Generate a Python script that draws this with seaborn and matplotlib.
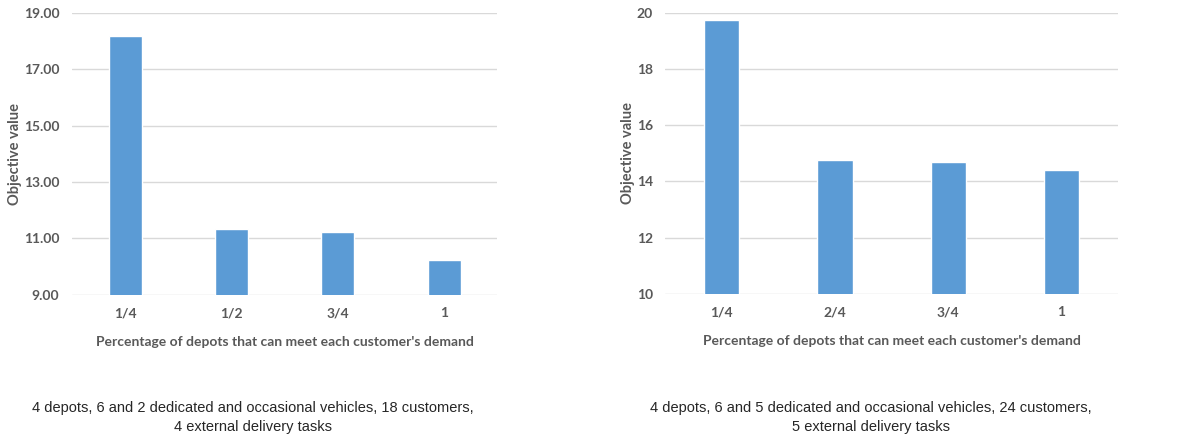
import pandas as pd
import matplotlib.pyplot as plt
import seaborn as sns

# Data
labels_a = ['1/4', '1/2', '3/4', '1']
values_a = [18.18, 11.34, 11.23, 10.24]
labels_b = ['1/4', '2/4', '3/4', '1']
values_b = [19.75, 14.77, 14.69, 14.41]

caption_a = '4 depots, 6 and 2 dedicated and occasional vehicles, 18 customers,\n4 external delivery tasks'
caption_b = '4 depots, 6 and 5 dedicated and occasional vehicles, 24 customers,\n5 external delivery tasks'

df_a = pd.DataFrame({'share': labels_a, 'obj': values_a})
df_b = pd.DataFrame({'share': labels_b, 'obj': values_b})

sns.set_style('white')
plt.rcParams['font.family'] = ['Lato', 'DejaVu Sans']

fig = plt.figure(figsize=(11.88, 4.42), dpi=100)
ax1 = fig.add_axes([0.0606, 0.333, 0.358, 0.638])
ax2 = fig.add_axes([0.560, 0.335, 0.381, 0.636])

grey = '#595959'
bar_color = '#5b9bd5'


def draw(ax, df, ylim, ticks, fmt):
    sns.barplot(data=df, x='share', y='obj', color=bar_color, width=0.31,
                saturation=1, ax=ax, zorder=3)
    ax.set_ylim(*ylim)
    ax.set_yticks(ticks)
    ax.set_yticklabels([fmt.format(t) for t in ticks])
    ax.grid(axis='y', color='#d9d9d9', linewidth=1, zorder=0)
    for s in ax.spines.values():
        s.set_visible(False)
    ax.tick_params(length=0, labelsize=10, labelcolor=grey, pad=9)
    for t in ax.get_xticklabels() + ax.get_yticklabels():
        t.set_fontweight('bold')
    ax.set_xlabel("Percentage of depots that can meet each customer's demand",
                  fontsize=10, color=grey, fontweight='bold', labelpad=12)
    ax.set_ylabel('Objective value', fontsize=10.5, color=grey, fontweight='bold',
                  labelpad=1)


draw(ax1, df_a, (9, 19), [9, 11, 13, 15, 17, 19], '{:.2f}')
draw(ax2, df_b, (10, 20), [10, 12, 14, 16, 18, 20], '{:.0f}')

cap_font = ['Liberation Sans', 'DejaVu Sans']
fig.text(0.213, 0.018, caption_a, ha='center', va='bottom', fontsize=10.5,
         family=cap_font, linespacing=1.5)
fig.text(0.733, 0.018, caption_b, ha='center', va='bottom', fontsize=10.5,
         family=cap_font, linespacing=1.5)

fig.savefig('out.png', dpi=100)
